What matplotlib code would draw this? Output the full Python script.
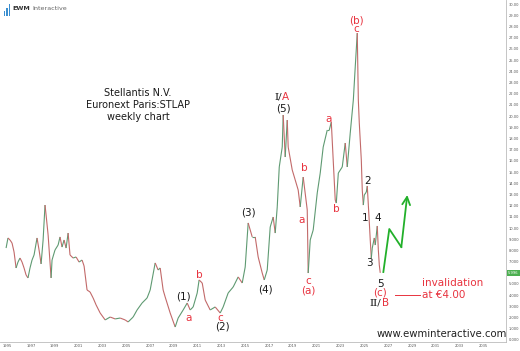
import numpy as np
import matplotlib
matplotlib.use('Agg')
import matplotlib.pyplot as plt
from matplotlib.collections import LineCollection

# weekly price path (year, EUR)
years = [1994.92, 1995.08, 1995.25, 1995.42, 1995.59, 1995.76, 1995.92, 1996.09, 1996.26, 1996.43,
         1996.60, 1996.76, 1996.93, 1997.10, 1997.27, 1997.52, 1997.69, 1997.86, 1998.03, 1998.19,
         1998.28, 1998.45, 1998.70, 1998.78, 1999.03, 1999.29, 1999.45, 1999.62, 1999.79, 1999.96,
         2000.13, 2000.29, 2000.55, 2000.80, 2001.05, 2001.30, 2001.47, 2001.72, 2001.97, 2002.23,
         2002.48, 2002.82, 2003.24, 2003.66, 2004.08, 2004.50, 2004.92, 2005.17, 2005.59, 2005.92,
         2006.34, 2006.76, 2007.02, 2007.44, 2007.69, 2007.86, 2008.11, 2008.28, 2008.70, 2009.12,
         2009.37, 2009.79, 2010.13, 2010.38, 2010.63, 2010.97, 2011.13, 2011.39, 2011.64, 2012.06,
         2012.48, 2012.90, 2013.15, 2013.57, 2013.99, 2014.41, 2014.75, 2015.00, 2015.25, 2015.59,
         2015.84, 2016.09, 2016.43, 2016.60, 2016.85, 2017.10, 2017.35, 2017.52, 2017.69, 2017.86,
         2018.11, 2018.19, 2018.36, 2018.53, 2018.61, 2018.95, 2019.20, 2019.45, 2019.62, 2019.87,
         2020.21, 2020.29, 2020.46, 2020.71, 2021.05, 2021.30, 2021.55, 2021.89, 2022.06, 2022.23,
         2022.39, 2022.56, 2022.65, 2022.82, 2023.15, 2023.40, 2023.57, 2023.82, 2024.08, 2024.24,
         2024.41, 2024.50, 2024.58, 2024.75, 2024.83, 2024.92, 2025.00, 2025.17, 2025.25, 2025.34,
         2025.42, 2025.50, 2025.59, 2025.67, 2025.84, 2025.92, 2026.09, 2026.18, 2026.26, 2026.34]
prices = [8.21, 9.11, 8.93, 8.66, 7.86, 6.43, 6.96, 7.32, 6.96, 6.43,
          5.80, 5.54, 6.43, 7.14, 7.59, 9.11, 8.04, 6.79, 8.93, 12.05,
          11.16, 9.38, 5.54, 7.14, 8.04, 8.48, 9.20, 8.30, 8.93, 8.21,
          9.55, 7.59, 7.32, 7.41, 6.96, 7.14, 6.61, 4.46, 4.29, 3.75,
          3.13, 2.41, 1.79, 2.05, 1.88, 1.96, 1.79, 1.61, 2.05, 2.68,
          3.30, 3.75, 4.46, 6.88, 6.25, 6.43, 4.46, 3.84, 2.41, 1.16,
          1.96, 2.68, 3.30, 2.68, 2.95, 4.20, 5.36, 5.09, 3.57, 2.68,
          2.95, 2.41, 2.95, 4.20, 4.73, 5.63, 5.09, 6.52, 10.45, 9.20,
          9.20, 7.41, 5.98, 5.36, 6.25, 10.09, 10.98, 9.55, 11.88, 15.45,
          17.23, 20.09, 16.34, 19.64, 17.23, 15.18, 14.29, 13.39, 11.88, 14.55,
          11.61, 5.98, 8.93, 9.82, 13.13, 14.91, 17.23, 18.75, 18.75, 19.46,
          16.07, 12.50, 12.23, 14.91, 15.45, 17.59, 15.45, 18.48, 21.43, 24.38,
          27.41, 21.43, 19.38, 16.07, 13.39, 12.05, 12.95, 13.21, 13.75, 12.05,
          10.54, 8.93, 7.32, 8.21, 9.11, 8.48, 10.18, 8.04, 6.70, 5.996]

# projected path (green)
proj_years = [2026.60, 2027.10, 2028.11, 2028.61]
proj_prices = [6.07, 9.91, 8.30, 12.95]

last_price = 5.996
invalidation = 4.00
inval_years = [2027.61, 2029.71]

# wave labels: (text, year, price, colour)
RED = '#e8333f'
BLK = '#1a1a1a'
labels = [
    ('(1)', 2009.79, 3.84, BLK), ('a', 2010.21, 1.96, RED), ('b', 2011.13, 5.80, RED),
    ('c', 2012.90, 1.96, RED), ('(2)', 2013.07, 1.16, BLK), ('(3)', 2015.25, 11.34, BLK),
    ('(4)', 2016.68, 4.55, BLK), ('(5)', 2018.19, 20.71, BLK), ('b', 2019.96, 15.36, RED),
    ('a', 2019.71, 10.71, RED), ('c', 2020.29, 5.27, RED), ('(a)', 2020.29, 4.46, RED),
    ('a', 2021.97, 19.73, RED), ('(b)', 2024.33, 28.57, RED), ('c', 2024.33, 27.77, RED),
    ('b', 2022.65, 11.70, RED), ('2', 2025.25, 14.20, BLK), ('1', 2025.08, 10.89, BLK),
    ('4', 2026.09, 10.89, BLK), ('3', 2025.42, 6.88, BLK), ('5', 2026.34, 5.00, BLK),
    ('(c)', 2026.34, 4.20, RED),
]

x_ticks = list(range(1995, 2036, 2))
y_ticks = list(range(0, 31))

fig = plt.figure(figsize=(5.2, 3.51), dpi=100)
ax = fig.add_axes([0, 9 / 351, 506 / 520, 342 / 351])

pts = np.column_stack([years, prices])
segs = np.stack([pts[:-1], pts[1:]], axis=1)
cols = ['#5f9a72' if b >= a else '#c26a6a' for a, b in zip(prices[:-1], prices[1:])]
ax.add_collection(LineCollection(segs, colors=cols, linewidths=0.8))

ax.plot(proj_years[:-1], proj_prices[:-1], color='#22b02a', lw=1.3)
ax.annotate('', xy=(proj_years[-1], proj_prices[-1]), xytext=(proj_years[-2], proj_prices[-2]),
            arrowprops=dict(arrowstyle='->', color='#22b02a', lw=1.3, mutation_scale=14,
                            shrinkA=0, shrinkB=0))

ax.plot(inval_years, [invalidation, invalidation], color=RED, lw=0.7)
ax.text(inval_years[1] + 0.15, 5.09, 'invalidation', color=RED, fontsize=7.5, ha='left', va='center')
ax.text(inval_years[1] + 0.15, invalidation, 'at \u20ac4.00', color=RED, fontsize=7.5,
        ha='left', va='center')

for txt, x, y, c in labels:
    ax.text(x, y, txt, color=c, fontsize=7.5, ha='center', va='center')

# two-colour labels
ax.text(2018.11, 21.70, 'I/', color=BLK, fontsize=7.5, ha='right', va='center', family='DejaVu Serif')
ax.text(2018.11, 21.70, 'A', color=RED, fontsize=7.5, ha='left', va='center')
ax.text(2026.45, 3.30, 'II/', color=BLK, fontsize=7.5, ha='right', va='center', family='DejaVu Serif')
ax.text(2026.45, 3.30, 'B', color=RED, fontsize=7.5, ha='left', va='center')

ax.text(2006.0, 20.98, 'Stellantis N.V.\nEuronext Paris:STLAP\nweekly chart', fontsize=7,
        ha='center', va='center', color=BLK, linespacing=1.2)

ax.text(1.002, 0.022, 'www.ewminteractive.com', transform=ax.transAxes, fontsize=7.3,
        ha='right', va='center', color='#222222')

ax.set_xlim(1994.41, 2036.9)
ax.set_ylim(-0.18, 30.36)
ax.set_xticks(x_ticks)
ax.set_xticklabels([str(v) for v in x_ticks])
ax.yaxis.tick_right()
ax.set_yticks([v for v in y_ticks if v != 6])
ax.set_yticklabels([f'{v:.2f}' if v >= 10 else f'{v:.3f}' for v in y_ticks if v != 6])
ax.tick_params(axis='both', length=0, labelsize=2.6, colors='#555555')
ax.tick_params(axis='y', pad=2)
ax.tick_params(axis='x', pad=1.5)
for s in ['top', 'left']:
    ax.spines[s].set_visible(False)
for s in ['right', 'bottom']:
    ax.spines[s].set_color('#bbbbbb')
    ax.spines[s].set_linewidth(0.6)

ax.text(1.004, last_price, f'{last_price:.3f}', transform=ax.get_yaxis_transform(),
        fontsize=2.6, color='white', ha='left', va='center',
        bbox=dict(boxstyle='square,pad=0.3', fc='#4caf50', ec='none'))

# logo
lax = fig.add_axes([3 / 520, 1 - 16 / 351, 8 / 520, 12 / 351])
lax.bar([0, 1, 2], [0.4, 0.7, 1.0], width=0.45, color='#3a8fd0')
lax.set_xlim(-0.5, 2.5)
lax.set_ylim(0, 1)
lax.axis('off')
fig.text(12 / 520, 1 - 9 / 351, 'EWM', fontsize=4.6, fontweight='bold', color='#333333', va='center')
fig.text(32 / 520, 1 - 9 / 351, 'Interactive', fontsize=4.6, color='#666666', va='center')

fig.savefig('out.png', dpi=100)
